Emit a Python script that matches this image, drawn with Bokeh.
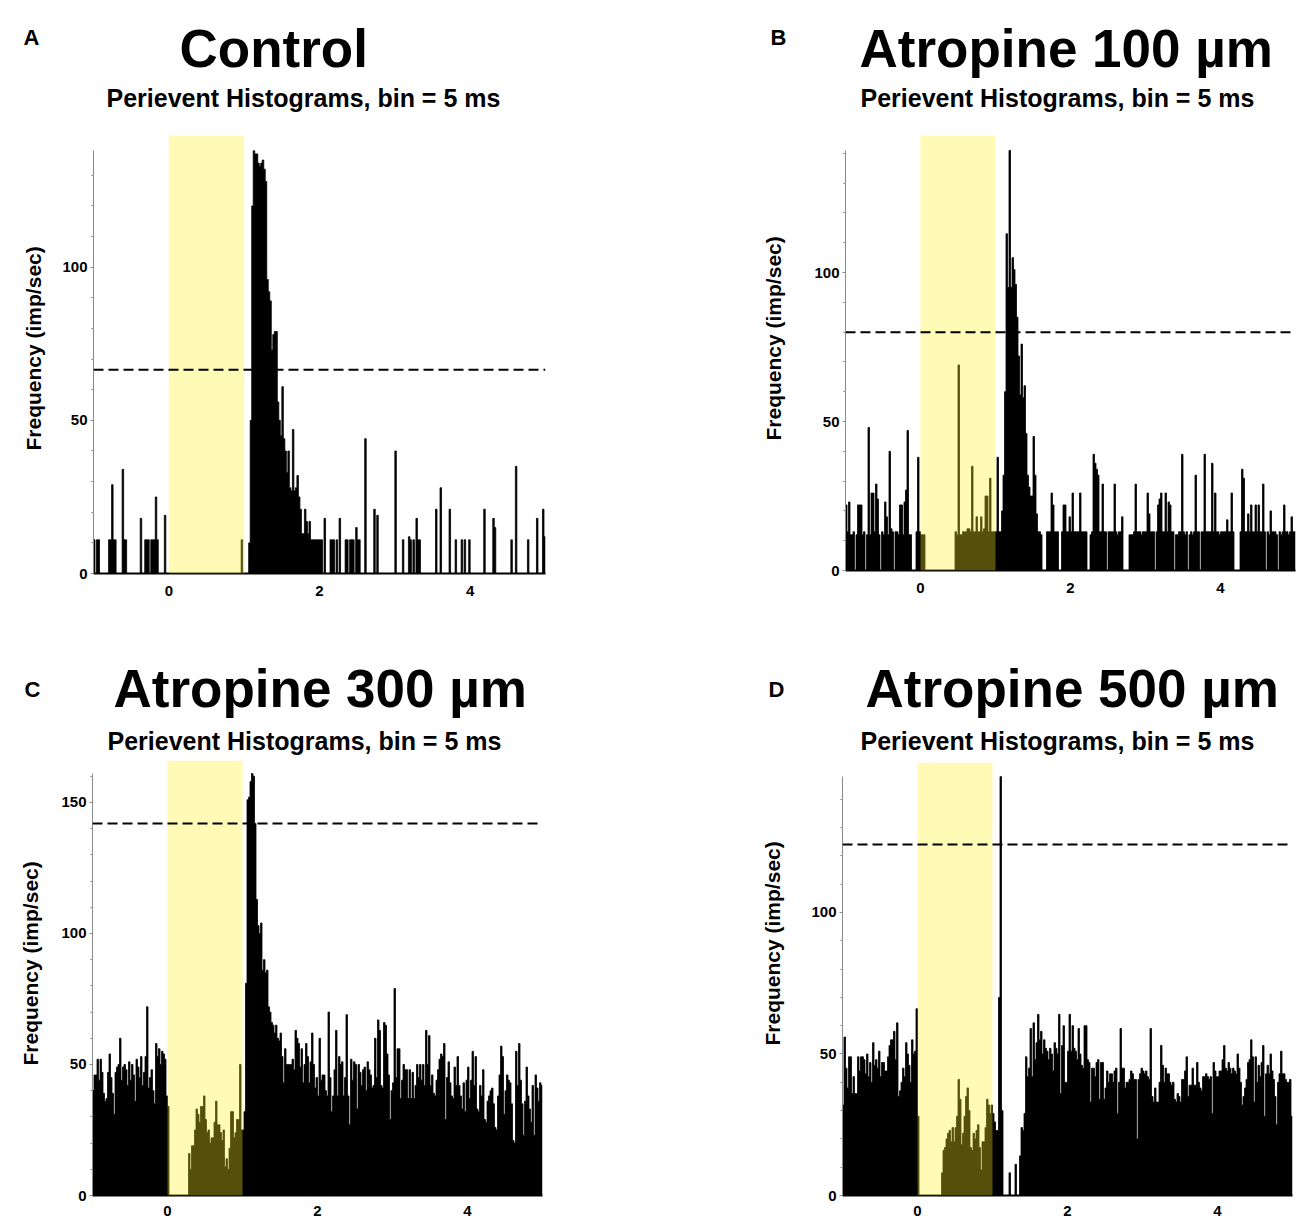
import math
from bokeh.plotting import figure
from bokeh.models import Range1d, FixedTicker, BoxAnnotation, Span, ColumnDataSource
from bokeh.layouts import column, row
from bokeh.core.properties import value
from bokeh.embed import file_html
from bokeh.resources import INLINE

# ---------------- data ----------------
BIN = 0.02          # display bin width (s)
T0 = -1.0           # start of the peri-event window (s)
T1 = 5.0            # end of the window (s)
X_TICKS = [0, 2, 4]
Y_TICKS = [0, 50, 100, 150]
STIM_START, STIM_END = 0.0, 1.0

# Control: sparse histogram (bin start time, imp/sec); all other bins are empty
ctrl_t = [-1.00, -0.96, -0.94, -0.80, -0.78, -0.76, -0.74, -0.72, -0.62, -0.60, -0.58, -0.38,
          -0.32, -0.30, -0.28, -0.24, -0.22, -0.20, -0.18, -0.16, -0.06, 0.96,
          1.06, 1.08, 1.10, 1.12, 1.14, 1.16, 1.18, 1.20, 1.22, 1.24, 1.26, 1.28, 1.30, 1.32,
          1.34, 1.36, 1.38, 1.40, 1.42, 1.44, 1.46, 1.48, 1.50, 1.52, 1.54, 1.56, 1.58, 1.60,
          1.62, 1.64, 1.66, 1.68, 1.70, 1.72, 1.74, 1.76, 1.78, 1.80, 1.82, 1.84, 1.86, 1.88,
          1.90, 1.92, 1.94, 1.96, 1.98, 2.00, 2.02,
          2.06, 2.14, 2.16, 2.18, 2.22, 2.26, 2.34, 2.36, 2.40, 2.42, 2.44, 2.48, 2.50, 2.52,
          2.60, 2.72, 2.76, 3.00, 3.10, 3.18, 3.20, 3.24, 3.28, 3.30, 3.32, 3.54, 3.60, 3.72,
          3.80, 3.88, 3.92, 3.98, 4.18, 4.30, 4.32, 4.54, 4.60, 4.76, 4.88, 4.96, 4.98]
ctrl_v = [11, 11, 11, 11, 11, 29, 11, 11, 34, 11, 11, 18,
          11, 11, 11, 11, 11, 11, 25, 11, 19, 11,
          10, 50, 120, 138, 137, 137, 134, 133, 134, 135, 132, 128, 96, 92,
          89, 73, 78, 79, 79, 56, 50, 45, 61, 44, 40, 33, 40, 28,
          27, 47, 27, 28, 32, 25, 21, 13, 13, 21, 17, 13, 17, 11,
          11, 11, 11, 11, 11, 11, 11,
          18, 11, 11, 11, 11, 18, 11, 11, 11, 11, 11, 15, 11, 11,
          44, 21, 19, 40, 11, 12, 11, 11, 18, 11, 11, 21, 28, 21,
          11, 11, 11, 11, 21, 18, 15, 11, 35, 11, 18, 21, 12]

# Atropine 100: one value per 20 ms from -1 s to 5 s (rows = 1 s)
atr100 = (
    [22, 13, 23, 12, 12, 13, 0, 12, 22, 22, 22, 12, 13, 0, 12, 48, 12, 26, 26, 13, 29, 24, 12, 0, 13,
     12, 23, 18, 12, 40, 14, 13, 0, 13, 13, 12, 22, 22, 12, 23, 27, 47, 12, 12, 0, 0, 0, 13, 38, 13] +
    [12, 12, 12, 0, 0, 0, 0, 0, 0, 0, 0, 0, 0, 0, 0, 0, 0, 0, 0, 0, 0, 0, 0, 13, 12,
     69, 12, 12, 13, 13, 13, 14, 14, 13, 35, 13, 13, 18, 13, 13, 18, 13, 14, 25, 25, 13, 31, 13, 13, 13] +
    [13, 38, 13, 13, 20, 32, 60, 113, 95, 141, 95, 105, 101, 96, 85, 72, 59, 76, 58, 62, 46, 32, 28, 25, 25,
     45, 32, 19, 13, 13, 12, 0, 0, 0, 13, 13, 13, 26, 22, 13, 13, 13, 0, 0, 13, 22, 22, 13, 13, 18] +
    [13, 26, 13, 13, 13, 13, 26, 13, 13, 13, 13, 0, 0, 12, 13, 39, 36, 34, 32, 13, 13, 29, 13, 13, 0,
     13, 13, 13, 13, 29, 13, 12, 13, 13, 18, 0, 0, 0, 0, 12, 12, 12, 13, 29, 13, 13, 13, 12, 13, 13] +
    [13, 26, 19, 13, 13, 13, 0, 13, 22, 24, 26, 13, 13, 26, 13, 23, 22, 13, 13, 0, 12, 12, 13, 13, 39,
     13, 12, 13, 0, 12, 13, 12, 13, 32, 13, 13, 0, 13, 13, 39, 13, 13, 13, 13, 36, 13, 26, 13, 13, 12] +
    [13, 13, 13, 13, 17, 13, 13, 26, 13, 0, 0, 0, 0, 13, 34, 31, 13, 13, 19, 13, 22, 13, 13, 22, 13,
     22, 13, 13, 29, 13, 0, 13, 12, 20, 13, 13, 13, 12, 0, 13, 12, 13, 22, 13, 13, 12, 13, 18, 13, 13]
)

# Atropine 300
atr300 = (
    [40, 46, 46, 52, 44, 52, 47, 39, 36, 37, 47, 54, 45, 39, 31, 47, 49, 50, 60, 44, 49, 50, 48, 42, 51,
     44, 50, 46, 36, 52, 49, 45, 53, 42, 47, 53, 72, 41, 45, 48, 40, 35, 58, 53, 56, 50, 55, 54, 52, 38] +
    [34, 0, 0, 0, 0, 0, 0, 0, 0, 0, 0, 0, 0, 0, 16, 10, 19, 19, 25, 33, 31, 28, 34, 34, 38,
     29, 24, 25, 20, 22, 22, 28, 36, 27, 27, 24, 21, 25, 11, 14, 10, 18, 32, 32, 22, 24, 29, 29, 50, 25] +
    [25, 32, 81, 151, 152, 158, 161, 160, 142, 113, 103, 100, 104, 86, 90, 85, 86, 72, 70, 66, 65, 62, 65, 60, 59,
     62, 53, 43, 56, 50, 50, 50, 50, 52, 48, 63, 60, 58, 49, 56, 43, 50, 58, 53, 43, 51, 62, 50, 41, 45] +
    [38, 60, 44, 46, 46, 40, 38, 70, 45, 32, 38, 48, 63, 38, 53, 50, 51, 38, 45, 69, 38, 27, 52, 44, 51,
     50, 33, 50, 47, 42, 48, 49, 40, 51, 48, 46, 41, 42, 60, 45, 67, 63, 42, 41, 66, 65, 54, 46, 29, 40] +
    [43, 79, 45, 56, 56, 37, 44, 50, 48, 48, 37, 48, 37, 47, 37, 42, 50, 45, 50, 44, 50, 42, 63, 50, 61,
     42, 46, 39, 38, 44, 48, 52, 54, 53, 58, 29, 45, 51, 43, 38, 37, 49, 42, 53, 42, 38, 33, 43, 32, 44] +
    [49, 37, 44, 55, 42, 53, 33, 32, 42, 38, 48, 29, 28, 36, 38, 40, 41, 35, 26, 25, 38, 46, 57, 53, 31,
     40, 46, 44, 43, 35, 21, 20, 55, 42, 58, 44, 35, 23, 36, 49, 38, 33, 28, 42, 23, 46, 41, 36, 43, 42]
)

# Atropine 500
atr500 = (
    [32, 56, 45, 38, 49, 49, 36, 42, 36, 36, 49, 44, 49, 49, 48, 43, 50, 42, 47, 40, 54, 46, 48, 45, 51,
     42, 47, 47, 44, 44, 49, 53, 55, 55, 58, 48, 61, 35, 37, 40, 45, 42, 54, 50, 46, 40, 55, 50, 51, 66] +
    [28, 0, 0, 0, 0, 0, 0, 0, 0, 0, 0, 0, 0, 0, 0, 0, 8, 16, 17, 20, 22, 23, 19, 24, 19,
     24, 28, 41, 34, 18, 22, 28, 35, 38, 30, 17, 16, 22, 20, 23, 25, 17, 9, 19, 19, 24, 34, 32, 29, 32] +
    [29, 26, 23, 23, 70, 148, 30, 0, 0, 0, 0, 8, 0, 0, 0, 11, 0, 0, 14, 24, 23, 29, 49, 42, 45,
     59, 42, 61, 48, 54, 64, 55, 58, 50, 55, 52, 51, 48, 52, 50, 44, 54, 52, 50, 64, 36, 53, 60, 40, 40] +
    [51, 64, 51, 60, 52, 51, 48, 59, 50, 46, 45, 60, 60, 48, 47, 33, 45, 45, 42, 47, 48, 34, 47, 47, 34,
     38, 44, 40, 43, 43, 40, 44, 45, 29, 40, 59, 45, 45, 38, 40, 40, 41, 44, 43, 41, 41, 20, 41, 43, 45] +
    [44, 43, 44, 42, 41, 59, 35, 33, 38, 33, 33, 40, 53, 46, 40, 45, 43, 43, 40, 39, 40, 34, 33, 36, 35,
     33, 41, 41, 44, 49, 35, 39, 39, 45, 39, 39, 47, 40, 38, 37, 42, 42, 43, 42, 41, 42, 29, 47, 44, 42] +
    [42, 44, 44, 48, 53, 45, 44, 47, 45, 43, 45, 44, 43, 50, 45, 40, 32, 35, 38, 41, 47, 48, 55, 49, 33,
     49, 40, 46, 42, 47, 53, 28, 43, 46, 43, 50, 44, 41, 35, 25, 40, 43, 51, 43, 43, 41, 40, 40, 41, 28]
)

# dashed threshold levels (imp/sec)
thr_ctrl, thr_100, thr_300, thr_500 = 66.5, 80, 142, 124

titles = ["Control", "Atropine 100 µm", "Atropine 300 µm", "Atropine 500 µm"]
letters = ["A", "B", "C", "D"]
subtitle = "Perievent Histograms, bin = 5 ms"
ylabel = "Frequency (imp/sec)"

# ---------------- drawing ----------------
FONT = "Liberation Sans"
PANEL_W = 650
SZ_LETTER, SZ_TITLE, SZ_SUB, SZ_YLAB = 22, 53, 25, 21
LIFT = 0.38   # baseline correction (fraction of font size)
NBINS = int(round((T1 - T0) / BIN))


def dense_from_sparse(times, vals):
    out = [0] * NBINS
    for t, v in zip(times, vals):
        out[int(round((t - T0) / BIN))] = v
    return out


def style_blank(p):
    p.outline_line_color = None
    p.grid.visible = False
    p.background_fill_color = "white"
    p.border_fill_color = "white"


def txt(p, x, y, text, size, angle=0.0, baseline="alphabetic"):
    p.text(x=[x], y=[y], text=[text], angle=angle, text_font=value(FONT),
           text_font_style="bold", text_font_size=value(f"{size}px"), text_color="black",
           text_align="left", text_baseline=baseline)


def header(g):
    h = g["head"]
    p = figure(width=PANEL_W, height=h, x_range=Range1d(0, PANEL_W), y_range=Range1d(0, h),
               min_border=0, x_axis_location=None, y_axis_location=None,
               output_backend="svg", toolbar_location=None, tools="")
    style_blank(p)
    for key, size, text in (("letter", SZ_LETTER, g["L"]), ("title", SZ_TITLE, g["T"]),
                            ("sub", SZ_SUB, subtitle)):
        x, yb = g[key]
        txt(p, x, yb + LIFT * size, text, size)
    return p


def side(g):
    w = g["side"]
    p = figure(frame_width=w, frame_height=g["fh"], min_border_left=0, min_border_right=0,
               min_border_top=0, min_border_bottom=g["b"],
               x_range=Range1d(0, w), y_range=Range1d(0, g["fh"]),
               x_axis_location=None, y_axis_location=None,
               output_backend="svg", toolbar_location=None, tools="")
    style_blank(p)
    txt(p, g["ylab"][0], g["ylab"][1], ylabel, SZ_YLAB, angle=math.pi / 2, baseline="middle")
    return p


def plot(vals, thr, y_end, g):
    assert len(vals) == NBINS
    p = figure(frame_width=g["fw"], frame_height=g["fh"],
               min_border_left=g["l"], min_border_right=g["r"],
               min_border_top=0, min_border_bottom=g["b"],
               x_range=Range1d(T0, T1), y_range=Range1d(0, y_end),
               output_backend="svg", toolbar_location=None, tools="")
    p.outline_line_color = None
    p.xgrid.visible = False
    p.ygrid.visible = False
    p.background_fill_color = "white"
    p.border_fill_color = "white"

    edges = [T0 + BIN * i for i in range(NBINS + 1)]
    heights = list(vals) + [vals[-1]]
    src = ColumnDataSource(dict(x=edges, y=heights))
    p.varea_step(x="x", y1=0, y2="y", step_mode="after", source=src, fill_color="black")
    p.step(x="x", y="y", mode="after", source=src, line_color="black", line_width=0.8)

    p.add_layout(BoxAnnotation(left=STIM_START, right=STIM_END, fill_color="#FFF01E",
                               fill_alpha=0.33, line_color=None))
    p.add_layout(Span(location=thr, dimension="width", line_color="black",
                      line_width=2, line_dash="10 5"))

    xa = p.xaxis[0]
    xa.ticker = FixedTicker(ticks=X_TICKS)
    xa.axis_line_color = "black"
    xa.axis_line_width = 2
    xa.major_tick_line_color = None
    xa.minor_tick_line_color = None
    xa.major_label_standoff = g["xs"]
    xa.major_label_text_font = FONT
    xa.major_label_text_font_style = "bold"
    xa.major_label_text_font_size = "15px"
    xa.major_label_text_color = "black"

    top = max(vals)
    ya = p.yaxis[0]
    ya.ticker = FixedTicker(ticks=[t for t in Y_TICKS if t <= top],
                            minor_ticks=[m for m in range(0, 170, 10) if m <= top])
    ya.bounds = (0, top)
    ya.axis_line_color = "#8a8a8a"
    ya.axis_line_width = 1
    ya.major_tick_line_color = "#8a8a8a"
    ya.major_tick_in = 0
    ya.major_tick_out = 3
    ya.minor_tick_line_color = "#8a8a8a"
    ya.minor_tick_in = 0
    ya.minor_tick_out = 2
    ya.major_label_standoff = 3
    ya.major_label_text_font = FONT
    ya.major_label_text_font_style = "bold"
    ya.major_label_text_font_size = "15px"
    ya.major_label_text_color = "black"
    return p


def panel(letter, title, vals, thr, y_end, g):
    g = dict(g, L=letter, T=title)
    return column(header(g), row(side(g), plot(vals, thr, y_end, g), spacing=0), spacing=0)


# geometry (pixels). header baselines are measured up from the header's bottom edge,
# y-label start is measured up from the plot frame's bottom edge
gA = dict(head=135, side=58, fw=452, fh=438, l=35, r=105, b=45, xs=6,
          letter=(23, 90), title=(179, 67), sub=(106, 28), ylab=(32.5, 123))
gB = dict(head=135, side=150, fw=450, fh=435, l=45, r=5, b=48, xs=6,
          letter=(120, 90), title=(209, 67), sub=(210, 28), ylab=(123, 130))
gC = dict(head=142, side=58, fw=450, fh=435, l=34, r=108, b=25, xs=4,
          letter=(24, 63), title=(113, 52), sub=(107, 10), ylab=(30, 130))
gD = dict(head=144, side=150, fw=450, fh=433, l=42, r=8, b=25, xs=4,
          letter=(118, 65), title=(215, 54), sub=(210, 12), ylab=(122, 150))

pA = panel(letters[0], titles[0], dense_from_sparse(ctrl_t, ctrl_v), thr_ctrl, 143, gA)
pB = panel(letters[1], titles[1], atr100, thr_100, 146, gB)
pC = panel(letters[2], titles[2], atr300, thr_300, 166, gC)
pD = panel(letters[3], titles[3], atr500, thr_500, 153, gD)

layout = column(row(pA, pB, spacing=0), row(pC, pD, spacing=0), spacing=0)

with open("out.html", "w") as f:
    f.write(file_html(layout, INLINE))
